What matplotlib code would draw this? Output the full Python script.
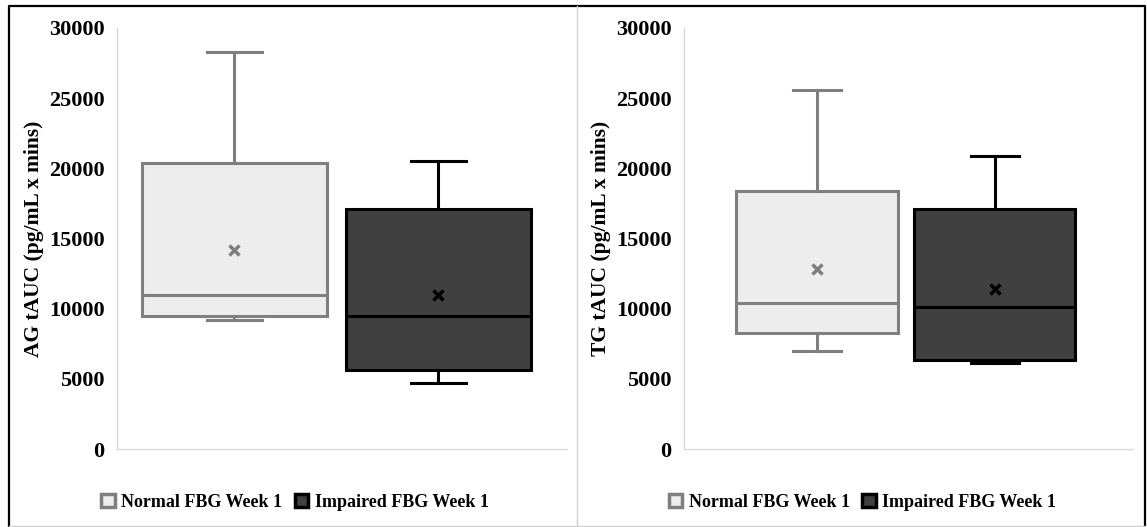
import matplotlib
matplotlib.use("Agg")
import matplotlib.pyplot as plt
from matplotlib.patches import Patch
from matplotlib.lines import Line2D

groups = ["Normal FBG Week 1", "Impaired FBG Week 1"]
yticks = [0, 5000, 10000, 15000, 20000, 25000, 30000]

# AG tAUC: [whislo, q1, med, q3, whishi, mean]
ag_normal = [9200, 9500, 11000, 20400, 28300, 14200]
ag_impaired = [4700, 5600, 9500, 17100, 20500, 11000]
# TG tAUC
tg_normal = [7000, 8300, 10400, 18400, 25600, 12800]
tg_impaired = [6100, 6350, 10100, 17100, 20900, 11400]

plt.rcParams['font.family'] = ['Liberation Serif', 'DejaVu Serif']
plt.rcParams['font.weight'] = 'bold'

fig = plt.figure(figsize=(11.47, 5.27), dpi=100)

fills = ["#ededed", "#404040"]
edges = ["#7f7f7f", "#000000"]

def stats(v, label):
    return dict(whislo=v[0], q1=v[1], med=v[2], q3=v[3], whishi=v[4], mean=v[5], label=label, fliers=[])

def panel(rect, data, ylabel, xlim, width):
    ax = fig.add_axes(rect)
    for i, (v, g) in enumerate(zip(data, groups)):
        c = edges[i]
        ax.bxp([stats(v, g)], positions=[i + 1], widths=width, showmeans=True,
               patch_artist=True, capwidths=0.27,
               boxprops=dict(facecolor=fills[i], edgecolor=c, linewidth=2.2),
               medianprops=dict(color=c, linewidth=2.2),
               whiskerprops=dict(color=c, linewidth=2.2),
               capprops=dict(color=c, linewidth=2.2),
               meanprops=dict(marker='x', markeredgecolor=c, markersize=7, markeredgewidth=2.5))
    ax.set_xlim(*xlim)
    ax.set_ylim(0, 30000)
    ax.set_yticks(yticks)
    ax.set_yticklabels([str(t) for t in yticks], fontsize=16, fontweight='bold')
    ax.set_xticks([])
    ax.tick_params(axis='y', length=0, pad=9)
    for s in ['top', 'right']:
        ax.spines[s].set_visible(False)
    for s in ['left', 'bottom']:
        ax.spines[s].set_color('#d9d9d9')
        ax.spines[s].set_linewidth(1)
    ax.set_ylabel(ylabel, fontsize=15.5, fontweight='bold')
    ax.yaxis.set_label_coords(-0.163, 0.5)
    return ax

ax1 = panel([0.1020, 0.148, 0.3923, 0.799], [ag_normal, ag_impaired],
            "AG tAUC (pg/mL x mins)", (0.425, 2.631), 0.905)
ax2 = panel([0.5963, 0.148, 0.3915, 0.799], [tg_normal, tg_impaired],
            "TG tAUC (pg/mL x mins)", (0.249, 2.78), 0.91)

handles = [Patch(facecolor=fills[i], edgecolor=edges[i], linewidth=2.5, label=groups[i]) for i in range(2)]
for cx in (0.257, 0.752):
    fig.legend(handles=handles, loc='center', bbox_to_anchor=(cx, 0.047), ncol=2, frameon=False,
               prop=dict(family='Liberation Serif', weight='bold', size=13),
               handlelength=0.75, handleheight=0.75, handletextpad=0.35, columnspacing=0.7)

# outer border (left, top, right) and divider
x0, x1, yt = 9 / 1147, 1145 / 1147, 1 - 6 / 527
fig.lines.append(Line2D([x0, x0, x1, x1], [0, yt, yt, 0], transform=fig.transFigure,
                        color='black', linewidth=1.6))
fig.lines.append(Line2D([577 / 1147, 577 / 1147], [0, yt], transform=fig.transFigure,
                        color='#d0d0d0', linewidth=1))
fig.lines.append(Line2D([x0, x1], [0.002, 0.002], transform=fig.transFigure,
                        color='#d0d0d0', linewidth=1))

fig.savefig("out.png", dpi=100)
